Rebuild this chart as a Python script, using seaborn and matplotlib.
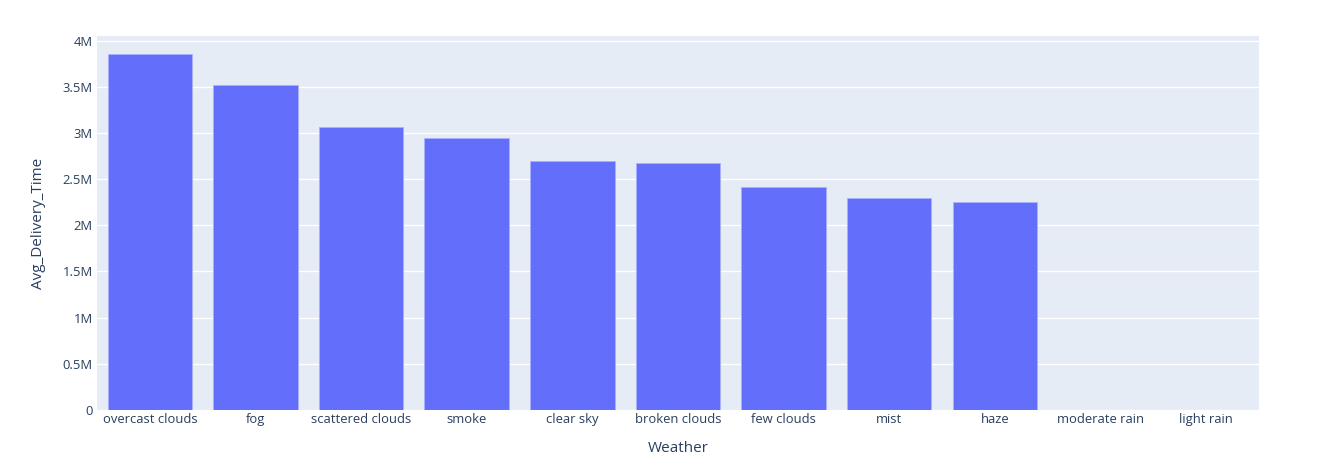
import matplotlib
matplotlib.use("Agg")
import matplotlib.pyplot as plt
import matplotlib.ticker as mticker
import seaborn as sns
import pandas as pd

weather = ["overcast clouds", "fog", "scattered clouds", "smoke", "clear sky",
           "broken clouds", "few clouds", "mist", "haze", "moderate rain", "light rain"]
avg_delivery_time = [3.855e6, 3.523e6, 3.064e6, 2.942e6, 2.700e6,
                     2.671e6, 2.420e6, 2.292e6, 2.249e6, 0, 0]

df = pd.DataFrame({"Weather": weather, "Avg_Delivery_Time": avg_delivery_time})

sns.set_theme(style="white")
plt.rcParams["font.family"] = ["Open Sans", "DejaVu Sans"]
text_color = "#2a3f5f"

fig = plt.figure(figsize=(13.18, 4.72), dpi=100)
ax = fig.add_axes([0.0736, 0.1314, 0.8816, 0.7923])
ax.set_facecolor("#E5ECF6")

sns.barplot(data=df, x="Weather", y="Avg_Delivery_Time", color="#636EFA",
            saturation=1, width=0.8, edgecolor="#a9b0fc", linewidth=0.6,
            ax=ax, zorder=3)

ax.set_ylim(0, 4.05e6)
ax.set_xlim(-0.5, len(weather) - 0.5)
ax.set_yticks([i * 0.5e6 for i in range(9)])


def fmt(v, pos):
    if v == 0:
        return "0"
    return f"{v / 1e6:g}M"


ax.yaxis.set_major_formatter(mticker.FuncFormatter(fmt))
ax.grid(axis="y", color="white", linewidth=1.0, zorder=0)
ax.set_axisbelow(True)
for s in ax.spines.values():
    s.set_visible(False)
ax.tick_params(axis="both", length=0, labelsize=9.4, labelcolor=text_color, pad=3)
ax.tick_params(axis="x", pad=2)
ax.set_xlabel("Weather", fontsize=11, color=text_color, labelpad=11)
ax.set_ylabel("Avg_Delivery_Time", fontsize=11, color=text_color, labelpad=12)

fig.savefig("out.png", dpi=100, facecolor="white")
